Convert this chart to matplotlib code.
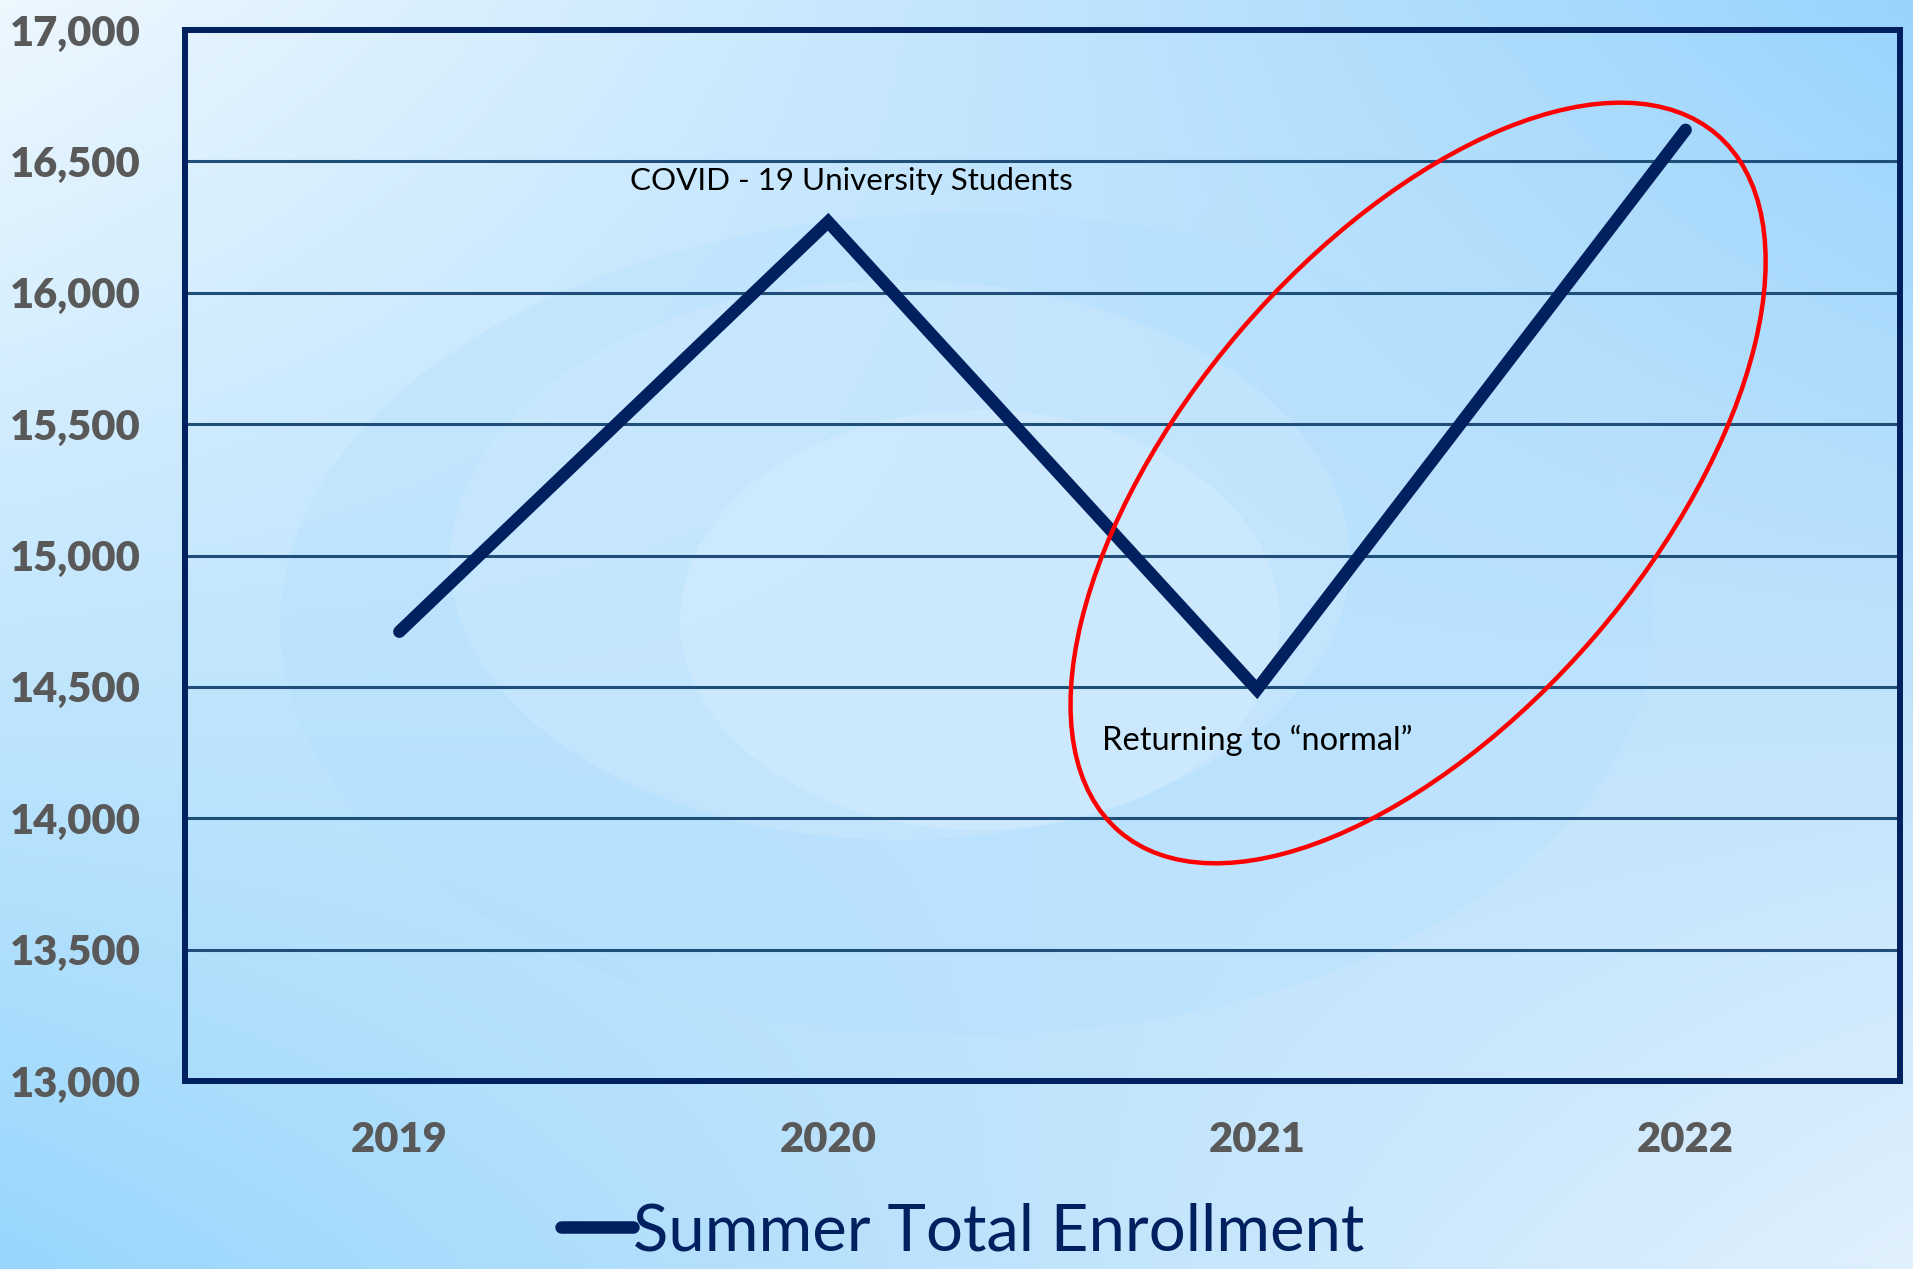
import matplotlib
matplotlib.use("Agg")
import matplotlib.pyplot as plt
import numpy as np
from matplotlib.patches import Ellipse
from matplotlib.transforms import ScaledTranslation

# ---- data ----
years = ["2019", "2020", "2021", "2022"]
enrollment = [14710, 16270, 14490, 16620]
y_ticks = [13000, 13500, 14000, 14500, 15000, 15500, 16000, 16500, 17000]
y_tick_labels = ["13,000", "13,500", "14,000", "14,500", "15,000", "15,500", "16,000", "16,500", "17,000"]
series_name = "Summer Total Enrollment"
note_peak = "COVID - 19 University Students"
note_return = "Returning to \u201cnormal\u201d"

NAVY = "#002060"
GRID = "#1f4e79"
GRAY = "#595959"
FONT = "Lato"

W, H, DPI = 1913, 1269, 100
fig = plt.figure(figsize=(W / DPI, H / DPI), dpi=DPI)

# ---- background gradient ----
bg = fig.add_axes([0, 0, 1, 1], zorder=-10)
bg.set_axis_off()
nx, ny = 200, 140
xx, yy = np.meshgrid(np.linspace(0, 1, nx), np.linspace(0, 1, ny))  # yy: 0 top
tl = np.array([0.93, 0.97, 0.997])
tr = np.array([0.60, 0.83, 0.99])
bl = np.array([0.60, 0.84, 0.99])
br = np.array([0.88, 0.94, 0.99])
img = (tl[None, None, :] * ((1 - xx) * (1 - yy))[..., None]
       + tr[None, None, :] * (xx * (1 - yy))[..., None]
       + bl[None, None, :] * ((1 - xx) * yy)[..., None]
       + br[None, None, :] * (xx * yy)[..., None])
bg.imshow(img, extent=[0, 1, 0, 1], aspect="auto", origin="upper", interpolation="bicubic")
# faint decorative swirl
bg.add_patch(Ellipse((967 / W, 1 - 624 / H), 1373 / W, 822 / H, facecolor=(0.70, 0.88, 1.0),
                     alpha=0.35, edgecolor="none"))
bg.add_patch(Ellipse((900 / W, 1 - 560 / H), 900 / W, 560 / H, facecolor=(0.85, 0.93, 1.0),
                     alpha=0.3, edgecolor="none"))
bg.add_patch(Ellipse((980 / W, 1 - 620 / H), 600 / W, 420 / H, facecolor=(0.88, 0.95, 1.0),
                     alpha=0.3, edgecolor="none"))
bg.set_xlim(0, 1)
bg.set_ylim(0, 1)

# ---- main axes ----
ax = fig.add_axes([185 / W, 1 - 1081 / H, (1900 - 185) / W, (1081 - 30) / H])
ax.set_facecolor("none")
x = np.arange(len(years))
line, = ax.plot(x, enrollment, color=NAVY, lw=9, solid_capstyle="round",
                solid_joinstyle="miter", label=series_name, zorder=4)
ax.set_xlim(-0.5, len(years) - 0.5)
ax.set_ylim(y_ticks[0], y_ticks[-1])
ax.set_yticks(y_ticks)
ax.set_yticklabels(y_tick_labels)
ax.set_xticks(x)
ax.set_xticklabels(years)
ax.yaxis.grid(True, color=GRID, lw=2.2)
ax.set_axisbelow(True)
ax.tick_params(axis="both", length=0)
ax.tick_params(axis="y", pad=32)
ax.tick_params(axis="x", pad=29)
for lab in ax.get_yticklabels() + ax.get_xticklabels():
    lab.set_fontfamily(FONT)
    lab.set_fontweight("heavy")
    lab.set_fontsize(30)
    lab.set_color(GRAY)
for s in ax.spines.values():
    s.set_color(NAVY)
    s.set_linewidth(4.3)

# annotations
fig.text(851 / W, 1 - 181 / H, note_peak, ha="center", va="center",
         fontsize=22.6, family=FONT, color="black")
fig.text(1102 / W, 1 - 740 / H, note_return, ha="left", va="center",
         fontsize=23.5, family=FONT, color="black")

# red ellipse highlight (centered in data coordinates, sized in inches)
cx, cy = 2.376, 15276
ell = Ellipse((0, 0), 9.18, 4.68, angle=49.4, facecolor="none", edgecolor="#ff0000", lw=3.2,
              transform=fig.dpi_scale_trans + ScaledTranslation(cx, cy, ax.transData),
              zorder=6, clip_on=False)
ax.add_patch(ell)

# legend
leg = fig.legend(handles=[line], loc="lower center", bbox_to_anchor=(0.503, -0.04),
                 frameon=False, handlelength=1.1, handletextpad=0.0,
                 prop={"family": FONT, "size": 47})
for t in leg.get_texts():
    t.set_color(NAVY)

fig.savefig("out.png", dpi=DPI)
